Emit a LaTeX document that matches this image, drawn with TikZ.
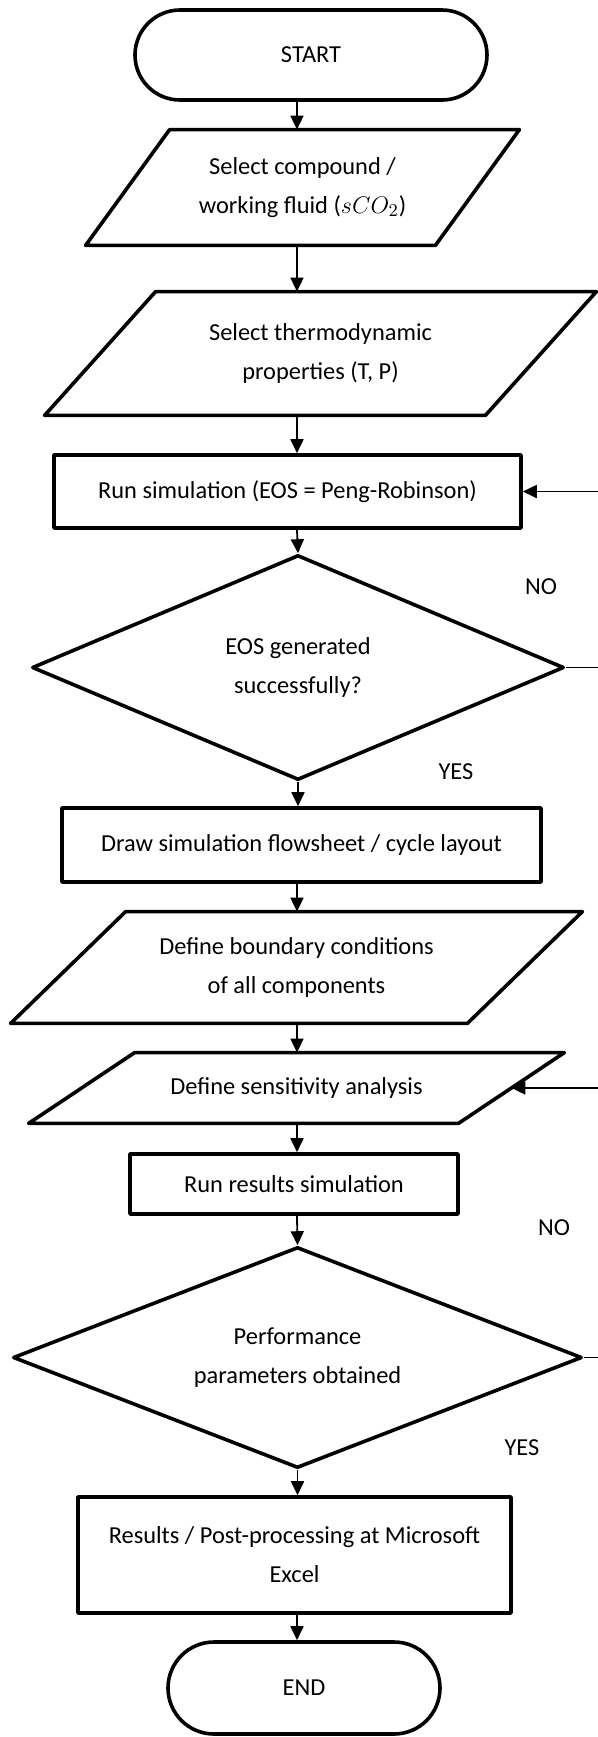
\documentclass[tikz,border=0pt]{standalone}
\usepackage{fontspec}
\setmainfont{Carlito}
\usetikzlibrary{arrows.meta,shapes.geometric,shapes.misc}

% outline of an input/output box: node name, half of the slant
\newcommand{\ioframe}[2]{%
  \draw[outline] ([xshift=#2]#1.north west) -- ([xshift=#2]#1.north east)
    -- ([xshift=-#2]#1.south east) -- ([xshift=-#2]#1.south west) -- cycle;}

\begin{document}
\begin{tikzpicture}[
  x=0.5pt, y=-0.5pt,
  font=\fontsize{12.2}{19.5}\selectfont,
  every node/.style={inner sep=0pt, align=center},
  outline/.style={draw=black, line width=1.8pt, line join=round},
  term/.style={outline, rounded rectangle},
  proc/.style={outline, rectangle},
  io/.style={rectangle},
  decide/.style={outline, diamond},
  flow/.style={-{Triangle[length=7pt,width=6.5pt]}, line width=0.9pt},
  lbl/.style={font=\fontsize{12.2}{14}\selectfont},
]
\useasboundingbox (0,0) rectangle (598,1737);

%% ---- arrow column and return rim ----
\coordinate (col) at (297,0);
\coordinate (rim) at (603,0);

%% ---- setup ----
\node[term, minimum width=176pt, minimum height=45pt] (start) at (311,55) {START};
\node[io, minimum width=174.5pt, minimum height=57.5pt] (sel1) at (302.5,187.5)
  {Select compound /\\working fluid ($sCO_2$)};
\ioframe{sel1}{21pt}
\node[io, minimum width=220pt, minimum height=61.5pt] (sel2) at (320.5,353.5)
  {Select thermodynamic\\properties (T, P)};
\ioframe{sel2}{27.75pt}

%% ---- EOS loop ----
\node[proc, minimum width=233.5pt, minimum height=36.5pt] (run) at (287.5,491.5)
  {Run simulation (EOS = Peng-Robinson)};
\node[decide, aspect=2.36, minimum width=266pt, minimum height=112.5pt] (eos) at (298,667.5)
  {EOS generated\\successfully?};
\node[lbl] (no1) at (541,587) {NO};
\node[lbl] (yes1) at (456,772) {YES};

%% ---- flowsheet ----
\node[proc, minimum width=239.5pt, minimum height=37pt] (layout) at (301.5,845)
  {Draw simulation flowsheet / cycle layout};
\node[io, minimum width=228pt, minimum height=55.5pt] (bnd) at (296.5,967.5)
  {Define boundary conditions\\of all components};
\ioframe{bnd}{28.75pt}
\node[io, minimum width=214.5pt, minimum height=35pt] (sens) at (296.5,1088)
  {Define sensitivity analysis};
\ioframe{sens}{26.5pt}
\node[proc, minimum width=164pt, minimum height=30pt] (res) at (294,1184)
  {Run results simulation};
\node[decide, aspect=2.57, minimum width=284.5pt, minimum height=110.5pt] (perf) at (297.5,1357.5)
  {Performance\\parameters obtained};
\node[lbl] (no2) at (554,1228) {NO};
\node[lbl] (yes2) at (522,1448) {YES};

%% ---- output ----
\node[proc, minimum width=216.5pt, minimum height=58pt] (post) at (294.5,1555)
  {Results / Post-processing at Microsoft\\Excel};
\node[term, minimum width=136pt, minimum height=46pt] (end) at (304,1688) {END};

%% ---- main flow ----
\draw[flow] (start.south -| col) -- (sel1.north -| col);
\draw[flow] (sel1.south -| col) -- (sel2.north -| col);
\draw[flow] (sel2.south -| col) -- (run.north -| col);
\draw[flow] (run.south -| col) -- (eos.north);
\draw[flow] (eos.south) -- (layout.north -| eos.south);
\draw[flow] (layout.south -| col) -- (bnd.north -| col);
\draw[flow] (bnd.south -| col) -- (sens.north -| col);
\draw[flow] (sens.south -| col) -- (res.north -| col);
\draw[flow] (res.south -| col) -- (perf.north);
\draw[flow] (perf.south) -- (post.north -| perf.south);
\draw[flow] (post.south -| col) -- (end.north -| col);

%% ---- NO returns ----
\draw[flow] (eos.east) -- (eos.east -| rim) |- (run.east);
\draw[flow] (perf.east) -- (perf.east -| rim) |- (sens.east);

\end{tikzpicture}
\end{document}
